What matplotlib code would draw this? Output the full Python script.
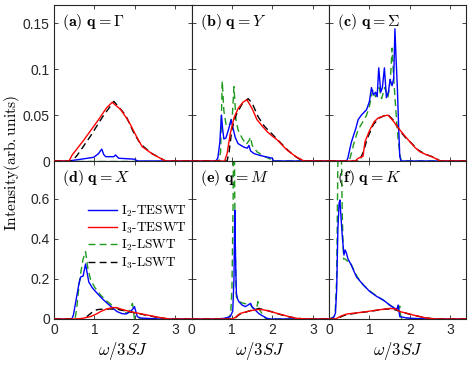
import numpy as np
import matplotlib
matplotlib.use("Agg")
import matplotlib.pyplot as plt
from matplotlib.ticker import FuncFormatter

plt.rcParams['mathtext.fontset'] = 'cm'
plt.rcParams['font.family'] = 'Liberation Sans'

# (omega/3SJ, intensity) points
# panel (a) q = Gamma
a_I2_teswt = [(0, 0), (0.35, 0), (0.6, 0.0015), (0.98, 0.004), (1.1, 0.008), (1.18, 0.013), (1.23, 0.007),
              (1.28, 0.0047), (1.48, 0.0047), (1.52, 0.0066), (1.6, 0.003), (1.98, 0.002), (2.07, 0), (3.4, 0)]
a_I3_teswt = [(0, 0), (0.37, 0), (0.45, 0.0066), (0.74, 0.023), (1.1, 0.045), (1.3, 0.058), (1.44, 0.064),
              (1.65, 0.056), (1.85, 0.043), (2.06, 0.025), (2.18, 0.0157), (2.43, 0.0077), (2.63, 0.003),
              (2.76, 0), (3.4, 0)]
a_I2_lswt = [(0, 0), (3.4, 0)]
a_I3_lswt = [(0, 0), (0.45, 0), (0.58, 0.0066), (0.9, 0.027), (1.2, 0.048), (1.48, 0.065), (1.77, 0.05),
             (1.98, 0.03), (2.14, 0.0186), (2.39, 0.009), (2.63, 0.003), (2.76, 0), (3.4, 0)]

# panel (b) q = Y
b_I2_teswt = [(0, 0), (0.6, 0), (0.65, 0.003), (0.7, 0.02), (0.74, 0.05), (0.77, 0.035), (0.8, 0.024),
              (0.85, 0.025), (0.92, 0.035), (0.98, 0.045), (1.02, 0.037), (1.08, 0.026), (1.15, 0.019),
              (1.3, 0.015), (1.38, 0.014), (1.42, 0.017), (1.46, 0.011), (1.55, 0.008), (1.7, 0.006),
              (1.9, 0.004), (2.0, 0.003), (2.03, 0), (3.4, 0)]
b_I3_teswt = [(0, 0), (0.82, 0), (0.88, 0.008), (0.96, 0.03), (1.05, 0.047), (1.15, 0.057), (1.27, 0.064),
              (1.37, 0.0668), (1.5, 0.057), (1.62, 0.045), (1.75, 0.038), (1.87, 0.032), (2.0, 0.027),
              (2.12, 0.023), (2.25, 0.017), (2.36, 0.012), (2.48, 0.008), (2.57, 0.005), (2.7, 0.002),
              (2.78, 0), (3.4, 0)]
b_I2_lswt = [(0, 0), (0.68, 0), (0.72, 0.01), (0.76, 0.087), (0.8, 0.055), (0.86, 0.038), (0.95, 0.04),
             (1.01, 0.05), (1.05, 0.081), (1.1, 0.045), (1.15, 0.034), (1.25, 0.025), (1.35, 0.018),
             (1.42, 0.022), (1.46, 0.026), (1.5, 0.017), (1.62, 0.01), (1.8, 0.005), (2.0, 0.001),
             (2.05, 0), (3.4, 0)]
b_I3_lswt = [(0, 0), (0.88, 0), (0.93, 0.01), (1.0, 0.035), (1.1, 0.05), (1.25, 0.062), (1.4, 0.068),
             (1.5, 0.063), (1.65, 0.048), (1.8, 0.038), (2.0, 0.029), (2.2, 0.02), (2.4, 0.011),
             (2.6, 0.004), (2.75, 0), (3.4, 0)]

# panel (c) q = Sigma
c_I2_teswt = [(0, 0), (0.44, 0), (0.47, 0.004), (0.55, 0.02), (0.6, 0.027), (0.66, 0.035), (0.72, 0.045),
              (0.8, 0.05), (0.93, 0.056), (1.0, 0.065), (1.05, 0.08), (1.1, 0.072), (1.15, 0.075),
              (1.19, 0.07), (1.23, 0.1015), (1.28, 0.075), (1.32, 0.08), (1.37, 0.1015), (1.42, 0.069),
              (1.47, 0.075), (1.51, 0.089), (1.56, 0.082), (1.6, 0.09), (1.63, 0.144), (1.66, 0.11),
              (1.69, 0.08), (1.72, 0.04), (1.75, 0.005), (1.78, 0), (3.4, 0)]
c_I3_teswt = [(0, 0), (0.65, 0), (0.72, 0.003), (0.84, 0.005), (0.89, 0.021), (1.01, 0.034),
              (1.12, 0.043), (1.22, 0.047), (1.35, 0.049), (1.46, 0.05), (1.6, 0.043), (1.75, 0.034),
              (1.88, 0.027), (2.0, 0.021), (2.12, 0.015), (2.25, 0.01), (2.4, 0.007), (2.5, 0.0055),
              (2.62, 0.003), (2.75, 0), (3.4, 0)]
c_I2_lswt = [(0, 0), (0.5, 0), (0.55, 0.008), (0.62, 0.02), (0.72, 0.034), (0.8, 0.04), (0.93, 0.05),
             (1.0, 0.06), (1.08, 0.077), (1.15, 0.07), (1.24, 0.08), (1.3, 0.068), (1.38, 0.08),
             (1.46, 0.07), (1.52, 0.09), (1.56, 0.123), (1.6, 0.09), (1.63, 0.07), (1.67, 0.045),
             (1.71, 0.023), (1.76, 0.005), (1.79, 0), (3.4, 0)]
c_I3_lswt = [(0, 0), (0.75, 0), (0.85, 0.01), (0.95, 0.025), (1.1, 0.04), (1.25, 0.047), (1.45, 0.051),
             (1.6, 0.044), (1.75, 0.033), (1.9, 0.025), (2.05, 0.019), (2.2, 0.012), (2.4, 0.007),
             (2.6, 0.004), (2.75, 0), (3.4, 0)]

# panel (d) q = X
d_I2_teswt = [(0, 0), (0.44, 0), (0.48, 0.02), (0.55, 0.1), (0.62, 0.18), (0.66, 0.21), (0.72, 0.215),
              (0.78, 0.275), (0.82, 0.23), (0.86, 0.185), (0.95, 0.155), (1.07, 0.128), (1.2, 0.1),
              (1.32, 0.078), (1.45, 0.055), (1.56, 0.037), (1.68, 0.027), (1.78, 0.025), (1.89, 0.037),
              (1.95, 0.05), (1.99, 0.062), (2.02, 0.04), (2.06, 0.012), (2.14, 0.005), (2.4, 0.002),
              (2.6, 0), (3.4, 0)]
d_I3_teswt = [(0, 0), (0.5, 0), (0.7, 0.003), (0.9, 0.012), (1.05, 0.025), (1.15, 0.037), (1.3, 0.05),
              (1.45, 0.057), (1.55, 0.057), (1.65, 0.05), (1.75, 0.044), (1.9, 0.036), (2.05, 0.03),
              (2.2, 0.024), (2.35, 0.018), (2.5, 0.012), (2.63, 0.007), (2.75, 0.003), (2.88, 0), (3.4, 0)]
d_I2_lswt = [(0, 0), (0.52, 0), (0.56, 0.05), (0.62, 0.17), (0.66, 0.23), (0.72, 0.3), (0.78, 0.337),
             (0.84, 0.25), (0.9, 0.2), (1.0, 0.16), (1.15, 0.12), (1.3, 0.09), (1.48, 0.062),
             (1.65, 0.045), (1.81, 0.028), (1.88, 0.045), (1.94, 0.078), (1.97, 0.03), (1.99, 0), (3.4, 0)]
d_I3_lswt = [(0, 0), (0.7, 0), (0.8, 0.01), (0.95, 0.035), (1.07, 0.047), (1.25, 0.05), (1.4, 0.05),
             (1.55, 0.05), (1.7, 0.043), (1.9, 0.035), (2.1, 0.027), (2.3, 0.018), (2.5, 0.01),
             (2.7, 0.004), (2.85, 0), (3.4, 0)]

# panel (e) q = M
e_I2_teswt = [(0, 0), (0.6, 0), (0.8, 0.003), (0.9, 0.008), (0.96, 0.012), (1.02, 0.04), (1.05, 0.2),
              (1.07, 0.545), (1.09, 0.3), (1.11, 0.128), (1.14, 0.1), (1.17, 0.087), (1.25, 0.07),
              (1.33, 0.062), (1.4, 0.07), (1.46, 0.078), (1.5, 0.06), (1.54, 0.053), (1.6, 0.04),
              (1.66, 0.028), (1.72, 0.02), (1.79, 0.012), (1.87, 0.003), (1.95, 0), (3.4, 0)]
e_I3_teswt = [(0, 0), (1.0, 0), (1.09, 0.008), (1.15, 0.02), (1.21, 0.028), (1.35, 0.036), (1.5, 0.043),
              (1.66, 0.048), (1.8, 0.045), (1.95, 0.038), (2.12, 0.028), (2.3, 0.018), (2.45, 0.01),
              (2.61, 0.003), (2.8, 0.001), (2.94, 0), (3.4, 0)]
e_I2_lswt = [(0, 0), (0.8, 0), (0.93, 0.01), (0.97, 0.03), (1.0, 0.15), (1.03, 0.6), (1.05, 1.2),
             (1.07, 0.6), (1.09, 0.25), (1.11, 0.11), (1.2, 0.085), (1.29, 0.078), (1.38, 0.075),
             (1.46, 0.07), (1.52, 0.055), (1.58, 0.045), (1.62, 0.06), (1.64, 0.087), (1.67, 0.05),
             (1.74, 0.028), (1.8, 0.01), (1.85, 0), (3.4, 0)]
e_I3_lswt = [(0, 0), (1.05, 0), (1.12, 0.012), (1.2, 0.025), (1.35, 0.035), (1.5, 0.045), (1.66, 0.052),
             (1.8, 0.047), (2.0, 0.035), (2.2, 0.022), (2.4, 0.011), (2.6, 0.004), (2.8, 0), (3.4, 0)]

# panel (f) q = K
f_I2_teswt = [(0, 0), (0.05, 0.002), (0.12, 0.01), (0.16, 0.03), (0.19, 0.15), (0.22, 0.45), (0.25, 0.58),
              (0.27, 0.595), (0.3, 0.5), (0.33, 0.41), (0.37, 0.32), (0.4, 0.345), (0.43, 0.33),
              (0.47, 0.3), (0.55, 0.27), (0.68, 0.21), (0.85, 0.17), (1.01, 0.137), (1.18, 0.113),
              (1.34, 0.095), (1.45, 0.078), (1.55, 0.062), (1.64, 0.052), (1.68, 0.05), (1.71, 0.07),
              (1.73, 0.04), (1.75, 0.012), (1.9, 0.006), (2.08, 0.003), (2.3, 0.001), (2.49, 0), (3.4, 0)]
f_I3_teswt = [(0, 0), (0.15, 0), (0.19, 0.003), (0.3, 0.015), (0.44, 0.025), (0.7, 0.031), (0.93, 0.037),
              (1.2, 0.045), (1.51, 0.053), (1.65, 0.05), (1.75, 0.037), (1.9, 0.03), (2.08, 0.02),
              (2.25, 0.012), (2.41, 0.005), (2.55, 0.002), (2.66, 0), (3.4, 0)]
f_I2_lswt = [(0, 0), (0.1, 0.008), (0.15, 0.02), (0.19, 0.2), (0.22, 0.8), (0.26, 1.2), (0.3, 0.9),
             (0.33, 0.5), (0.36, 0.3), (0.4, 0.3), (0.45, 0.29), (0.52, 0.287), (0.6, 0.25), (0.7, 0.21),
             (0.85, 0.17), (1.01, 0.14), (1.2, 0.112), (1.35, 0.093), (1.5, 0.07), (1.62, 0.055),
             (1.72, 0.048), (1.75, 0.065), (1.77, 0.02), (1.8, 0), (3.4, 0)]
f_I3_lswt = [(0, 0), (0.2, 0), (0.3, 0.012), (0.44, 0.022), (0.7, 0.03), (1.0, 0.038), (1.3, 0.047),
             (1.55, 0.052), (1.75, 0.038), (1.95, 0.026), (2.15, 0.016), (2.35, 0.007), (2.55, 0.002),
             (2.7, 0), (3.4, 0)]

panel_titles = [r"$\mathbf{(a)\ q} = \Gamma$", r"$\mathbf{(b)\ q} = Y$", r"$\mathbf{(c)\ q} = \Sigma$",
                r"$\mathbf{(d)\ q} = X$", r"$\mathbf{(e)\ q} = M$", r"$\mathbf{(f)\ q} = K$"]
legend_labels = [r"I$_2$-TESWT", r"I$_3$-TESWT", r"I$_2$-LSWT", r"I$_3$-LSWT"]
top_yticks = [0, 0.05, 0.1, 0.15]
bottom_yticks = [0, 0.2, 0.4, 0.6]
xticks = [0, 1, 2, 3]

panels = [(a_I2_teswt, a_I3_teswt, a_I2_lswt, a_I3_lswt),
          (b_I2_teswt, b_I3_teswt, b_I2_lswt, b_I3_lswt),
          (c_I2_teswt, c_I3_teswt, c_I2_lswt, c_I3_lswt),
          (d_I2_teswt, d_I3_teswt, d_I2_lswt, d_I3_lswt),
          (e_I2_teswt, e_I3_teswt, e_I2_lswt, e_I3_lswt),
          (f_I2_teswt, f_I3_teswt, f_I2_lswt, f_I3_lswt)]

styles = [dict(color='#0000ff', ls='-', zorder=3),
          dict(color='#ff0000', ls='-', zorder=5),
          dict(color='#1f9a1f', ls=(0, (5, 3)), zorder=2),
          dict(color='#000000', ls=(0, (5, 3)), zorder=4)]

fig = plt.figure(figsize=(4.71, 3.65), dpi=100)
W, H = 471, 365
left, pw = 54, 137.5
rows = [(5, 161), (161, 319)]

axes = []
for i in range(6):
    r, c = divmod(i, 3)
    top, bot = rows[r]
    ax = fig.add_axes([(left + c * pw) / W, 1 - bot / H, pw / W, (bot - top) / H])
    axes.append(ax)
    for curve, st in zip(panels[i], styles):
        w, I = zip(*curve)
        ax.plot(w, I, lw=1.0, **st)
    ax.set_xlim(0, 3.4)
    ax.set_xticks(xticks)
    if r == 0:
        ax.set_ylim(0, 0.17)
        ax.set_yticks(top_yticks)
        ax.tick_params(labelbottom=False)
    else:
        ax.set_ylim(0, 0.79)
        ax.set_yticks(bottom_yticks)
        ax.set_xlabel(r"$\omega/3SJ$", fontsize=12, labelpad=2)
    if c != 0:
        ax.tick_params(labelleft=False)
    ax.yaxis.set_major_formatter(FuncFormatter(lambda v, p: "%g" % v))
    ax.tick_params(direction='in', top=True, right=True, length=3, width=0.6,
                   labelsize=10, colors='#262626', pad=3)
    for s in ax.spines.values():
        s.set_linewidth(0.8)
        s.set_color('#262626')
    ax.annotate(panel_titles[i], xy=(0, 1), xycoords='axes fraction', xytext=(6, -5),
                textcoords='offset points', ha='left', va='top', fontsize=11.5)

handles = axes[3].get_lines()
axes[3].legend(handles, legend_labels, loc='upper left', bbox_to_anchor=(0.25, 0.73),
               frameon=False, borderpad=0, borderaxespad=0, handlelength=2.2, handletextpad=0.3,
               labelspacing=0.15, prop={'family': 'cmr10', 'size': 9.5})

fig.text(12 / W, 1 - 163 / H, r"$\mathrm{Intensity(arb.units)}$", rotation=90,
         ha='center', va='center', fontsize=11.2)

fig.savefig("out.png", dpi=100)
